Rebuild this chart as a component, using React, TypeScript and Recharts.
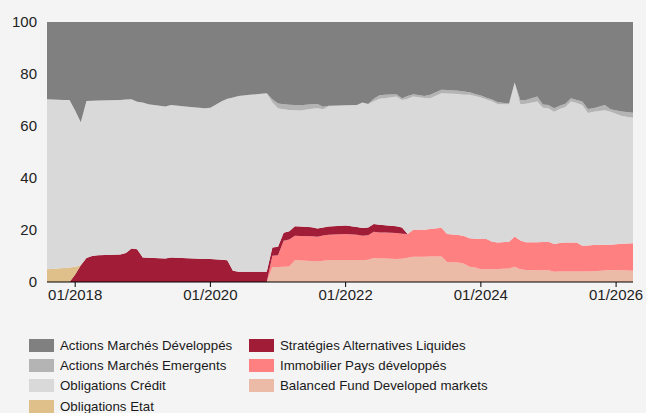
import React from "react";
import { AreaChart, Area, XAxis, YAxis } from "recharts";

const dates = [
  "2017-08", "2017-11", "2017-12", "2018-01", "2018-02", "2018-03", "2018-04", "2018-05",
  "2018-09", "2018-10", "2018-11", "2018-12", "2019-01", "2019-02", "2019-05", "2019-06",
  "2019-09", "2019-12", "2020-01", "2020-03", "2020-04", "2020-05", "2020-06", "2020-08",
  "2020-10", "2020-11", "2020-12", "2021-01", "2021-02", "2021-03", "2021-04", "2021-05",
  "2021-07", "2021-08", "2021-09", "2021-10", "2022-01", "2022-03", "2022-04", "2022-05",
  "2022-06", "2022-07", "2022-08", "2022-10", "2022-11", "2022-12", "2023-01", "2023-03",
  "2023-04", "2023-06", "2023-07", "2023-09", "2023-10", "2023-11", "2023-12", "2024-01",
  "2024-02", "2024-03", "2024-04", "2024-06", "2024-07", "2024-08", "2024-09", "2024-11",
  "2024-12", "2025-01", "2025-02", "2025-03", "2025-04", "2025-05", "2025-06", "2025-07",
  "2025-08", "2025-09", "2025-11", "2025-12", "2026-02", "2026-04",
];

const balanced = [
  0, 0, 0, 0, 0, 0, 0, 0,
  0, 0, 0, 0, 0, 0, 0, 0,
  0, 0, 0, 0, 0, 0, 0, 0,
  0, 0, 5.8, 5.8, 5.9, 6.0, 8.4, 8.3,
  8.1, 7.9, 8.2, 8.4, 8.4, 8.4, 8.4, 8.6,
  9.2, 9.0, 9.0, 8.8, 8.9, 9.3, 9.7, 9.7,
  9.8, 9.8, 7.7, 7.5, 7.0, 5.9, 5.6, 4.9,
  4.9, 4.9, 5.0, 5.2, 5.9, 4.9, 4.6, 4.5,
  4.5, 4.5, 3.9, 4.0, 4.0, 4.0, 4.0, 4.0,
  4.0, 4.1, 4.4, 4.6, 4.5, 4.3,
];

const immobilier = [
  0, 0, 0, 0, 0, 0, 0, 0,
  0, 0, 0, 0, 0, 0, 0, 0,
  0, 0, 0, 0, 0, 0, 0, 0,
  0, 0, 4.3, 4.5, 10.0, 10.3, 9.4, 9.4,
  9.5, 9.5, 9.7, 9.8, 10.1, 9.8, 9.4, 9.4,
  10.1, 10.0, 10.0, 10.0, 9.7, 9.2, 10.4, 10.4,
  10.6, 11.1, 10.8, 10.6, 10.7, 10.9, 11.0, 11.6,
  11.6, 10.6, 10.2, 10.3, 11.6, 11.1, 10.7, 10.8,
  10.9, 11.0, 10.7, 11.0, 11.2, 11.2, 11.2, 9.9,
  10.0, 10.1, 9.9, 9.7, 10.2, 10.6,
];

const strategies = [
  0, 0, 0, 2.9, 6.4, 9.2, 10.0, 10.3,
  10.6, 11.2, 12.9, 12.6, 9.4, 9.3, 9.0, 9.4,
  9.1, 8.8, 8.8, 8.6, 8.4, 4.3, 3.9, 3.9,
  3.9, 3.9, 3.2, 3.3, 3.0, 3.2, 3.6, 3.6,
  3.5, 3.2, 3.1, 3.1, 3.2, 3.0, 3.0, 3.0,
  3.0, 3.0, 2.8, 2.6, 2.4, 0, 0, 0,
  0, 0, 0, 0, 0, 0, 0, 0,
  0, 0, 0, 0, 0, 0, 0, 0,
  0, 0, 0, 0, 0, 0, 0, 0,
  0, 0, 0, 0, 0, 0,
];

const etat = [
  4.9, 5.4, 5.6, 3.0, 0, 0, 0, 0,
  0, 0, 0, 0, 0, 0, 0, 0,
  0, 0, 0, 0, 0, 0, 0, 0,
  0, 0, 0, 0, 0, 0, 0, 0,
  0, 0, 0, 0, 0, 0, 0, 0,
  0, 0, 0, 0, 0, 0, 0, 0,
  0, 0, 0, 0, 0, 0, 0, 0,
  0, 0, 0, 0, 0, 0, 0, 0,
  0, 0, 0, 0, 0, 0, 0, 0,
  0, 0, 0, 0, 0, 0,
];

const credit = [
  65.4, 64.6, 64.4, 60.1, 55.0, 60.4, 59.7, 59.5,
  59.4, 59.0, 57.4, 56.7, 59.6, 59.1, 58.5, 58.7,
  58.3, 58.0, 58.2, 60.9, 62.1, 66.7, 67.6, 68.1,
  68.5, 68.7, 55.7, 53.2, 47.5, 46.7, 44.7, 44.7,
  45.5, 46.2, 45.4, 46.3, 46.3, 46.9, 48.2, 47.5,
  47.2, 48.5, 48.9, 49.9, 49.0, 52.0, 51.2, 50.7,
  50.3, 51.7, 54.0, 54.2, 54.3, 55.2, 54.9, 54.5,
  53.7, 54.0, 53.2, 52.9, 59.2, 52.4, 53.3, 54.1,
  51.6, 51.3, 50.9, 51.5, 52.1, 54.2, 53.6, 54.2,
  51.0, 51.3, 51.8, 51.2, 49.1, 48.3,
];

const emergents = [
  0, 0, 0, 0, 0, 0, 0, 0,
  0, 0, 0, 0, 0, 0, 0, 0,
  0, 0, 0, 0, 0, 0, 0, 0,
  0, 0, 1.3, 1.9, 2.0, 2.0, 2.0, 2.0,
  1.8, 1.7, 1.0, 0.2, 0, 0, 0, 0,
  1.0, 1.3, 1.3, 0.9, 0.7, 1.0, 0.9, 0.7,
  1.3, 1.3, 1.3, 1.3, 1.3, 1.0, 0.8, 0.7,
  0.7, 0.7, 0.7, 0.3, 0, 1.6, 1.4, 1.9,
  1.3, 1.3, 1.3, 1.3, 1.3, 1.3, 1.2, 1.3,
  1.5, 1.3, 2.0, 0.9, 1.8, 1.9,
];

const developpes = [
  29.7, 30.0, 30.0, 34.0, 38.6, 30.4, 30.3, 30.2,
  30.0, 29.8, 29.7, 30.7, 31.0, 31.6, 32.5, 31.9,
  32.6, 33.2, 33.0, 30.5, 29.5, 29.0, 28.5, 28.0,
  27.6, 27.4, 29.7, 31.3, 31.6, 31.8, 31.9, 32.0,
  31.6, 31.5, 32.6, 32.2, 32.0, 31.9, 31.0, 31.5,
  29.5, 28.2, 28.0, 27.8, 29.3, 28.5, 27.8, 28.5,
  28.0, 26.1, 26.2, 26.4, 26.7, 27.0, 27.7, 28.3,
  29.1, 29.8, 30.9, 31.3, 23.3, 30.0, 30.0, 28.7,
  31.7, 31.9, 33.2, 32.2, 31.4, 29.3, 30.0, 30.6,
  33.5, 33.2, 31.9, 33.6, 34.4, 34.9,
];

const tickDates = ["2018-01", "2020-01", "2022-01", "2024-01", "2026-01"];
const yTicks = [0, 20, 40, 60, 80, 100];

const series = [
  { key: "developpes", name: "Actions Marchés Développés", color: "#808080" },
  { key: "emergents", name: "Actions Marchés Emergents", color: "#b4b4b4" },
  { key: "credit", name: "Obligations Crédit", color: "#d9d9d9" },
  { key: "etat", name: "Obligations Etat", color: "#dfc08a" },
  { key: "strategies", name: "Stratégies Alternatives Liquides", color: "#a01c37" },
  { key: "immobilier", name: "Immobilier Pays développés", color: "#ff8080" },
  { key: "balanced", name: "Balanced Fund Developed markets", color: "#ecbba8" },
];

const toIndex = (d: string) => {
  const [y, m] = d.split("-").map(Number);
  return y * 12 + (m - 1);
};

const fmt = (v: number) => {
  const y = Math.floor(v / 12);
  const m = (v % 12) + 1;
  return `${String(m).padStart(2, "0")}/${y}`;
};

const data = dates.map((d, i) => ({
  t: toIndex(d),
  balanced: balanced[i],
  immobilier: immobilier[i],
  strategies: strategies[i],
  etat: etat[i],
  credit: credit[i],
  emergents: emergents[i],
  developpes: developpes[i],
}));

const stackOrder = ["balanced", "immobilier", "strategies", "etat", "credit", "emergents", "developpes"];

const FONT = "'Liberation Sans', Arial, sans-serif";

export default function App() {
  const leftCol = series.slice(0, 4);
  const rightCol = series.slice(4);
  const item = (s: { key: string; name: string; color: string }) => (
    <div key={s.key} style={{ display: "flex", alignItems: "center", height: 20.3 }}>
      <div style={{ width: 25, height: 13, background: s.color, marginRight: 6, flexShrink: 0 }} />
      <span style={{ fontSize: 13.3, color: "#1a1a1a", whiteSpace: "nowrap" }}>{s.name}</span>
    </div>
  );
  return (
    <div
      style={{
        position: "fixed",
        left: 0,
        top: 0,
        width: 646,
        height: 413,
        background: "#f4f4f4",
        fontFamily: FONT,
        overflow: "hidden",
      }}
    >
      <AreaChart
        width={646}
        height={312}
        data={data}
        margin={{ top: 22, right: 13, left: 0, bottom: 0 }}
      >
        <XAxis
          dataKey="t"
          type="number"
          domain={[toIndex("2017-08"), toIndex("2026-04")]}
          ticks={tickDates.map(toIndex)}
          tickFormatter={fmt}
          height={30}
          axisLine={{ stroke: "#000", strokeWidth: 1 }}
          tickLine={{ stroke: "#000" }}
          tickSize={5}
          tick={{ fill: "#222", fontSize: 15, fontFamily: FONT }}
          allowDataOverflow
        />
        <YAxis
          type="number"
          domain={[0, 100]}
          ticks={yTicks}
          width={47}
          axisLine={false}
          tickLine={false}
          tickMargin={4}
          tick={{ fill: "#222", fontSize: 15, fontFamily: FONT }}
        />
        {stackOrder.map((k) => {
          const s = series.find((x) => x.key === k)!;
          return (
            <Area
              key={k}
              type="linear"
              dataKey={k}
              name={s.name}
              stackId="1"
              stroke="none"
              fill={s.color}
              fillOpacity={1}
              isAnimationActive={false}
              dot={false}
              activeDot={false}
            />
          );
        })}
      </AreaChart>
      <div style={{ position: "absolute", left: 29, top: 335 }}>{leftCol.map(item)}</div>
      <div style={{ position: "absolute", left: 249, top: 335 }}>{rightCol.map(item)}</div>
    </div>
  );
}
